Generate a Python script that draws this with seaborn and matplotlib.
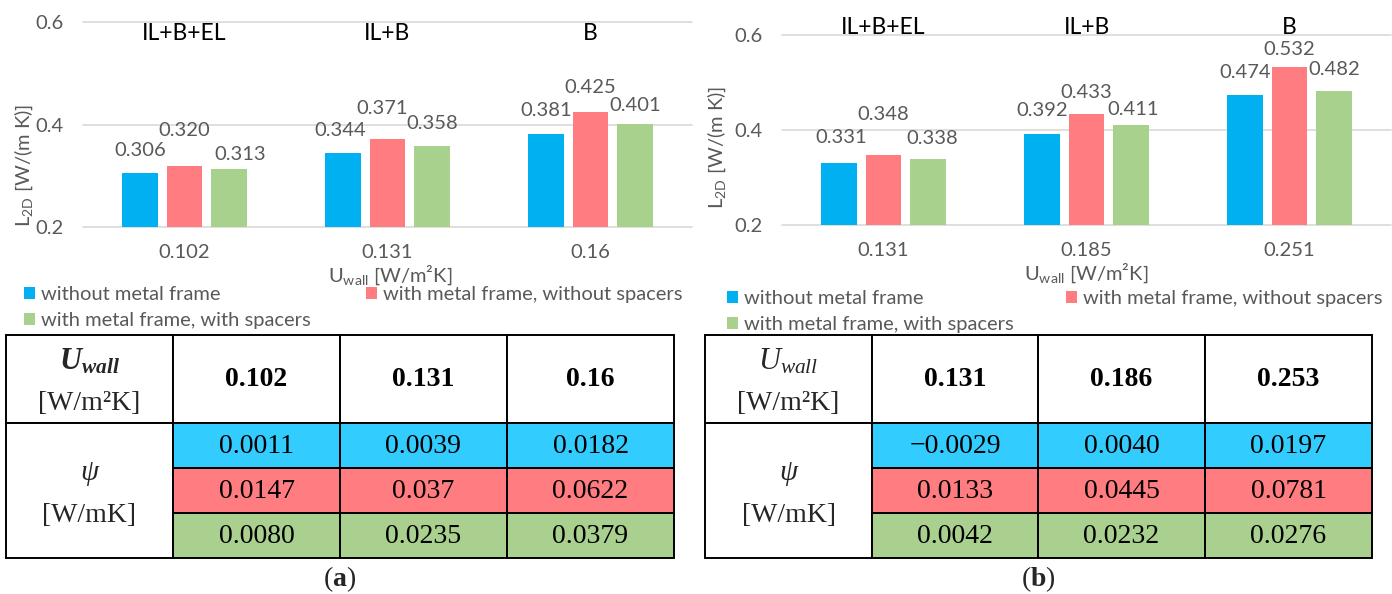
import matplotlib
matplotlib.use("Agg")
import matplotlib.pyplot as plt
from matplotlib.patches import Rectangle, Patch
import pandas as pd
import seaborn as sns

# ---------------- data ----------------
series = ["without metal frame",
          "with metal frame, without spacers",
          "with metal frame, with spacers"]
variants = ["IL+B+EL", "IL+B", "B"]
y_ticks = [0.2, 0.4, 0.6]

u_wall_a = ["0.102", "0.131", "0.16"]
l2d_a_no_frame = [0.306, 0.344, 0.381]
l2d_a_frame = [0.320, 0.371, 0.425]
l2d_a_spacers = [0.313, 0.358, 0.401]

u_wall_b = ["0.131", "0.185", "0.251"]
l2d_b_no_frame = [0.331, 0.392, 0.474]
l2d_b_frame = [0.348, 0.433, 0.532]
l2d_b_spacers = [0.338, 0.411, 0.482]

table_u_a = ["0.102", "0.131", "0.16"]
psi_a_no_frame = ["0.0011", "0.0039", "0.0182"]
psi_a_frame = ["0.0147", "0.037", "0.0622"]
psi_a_spacers = ["0.0080", "0.0235", "0.0379"]

table_u_b = ["0.131", "0.186", "0.253"]
psi_b_no_frame = ["\u22120.0029", "0.0040", "0.0197"]
psi_b_frame = ["0.0133", "0.0445", "0.0781"]
psi_b_spacers = ["0.0042", "0.0232", "0.0276"]

# ---------------- style ----------------
bar_colors = ["#00B0F0", "#FF7C80", "#A9D18E"]
cell_colors = ["#33CCFF", "#FF7C80", "#A9D08E"]
GREY = "#595959"
GRID = "#D9D9D9"
SANS = "Lato"
SERIF = "Liberation Serif"
FS = 14.5        # chart text size
FS_LEG = 14.5    # legend text size
FS_VAR = 16.5    # construction variant names
FS_TAB = 20      # table text size
LW = 1.4

sns.set_theme(style="white")
plt.rcParams.update({
    "font.family": [SANS, "DejaVu Sans"],
    "mathtext.fontset": "custom",
    "mathtext.rm": SERIF,
    "mathtext.it": SERIF + ":italic",
    "mathtext.bf": SERIF + ":bold",
    "mathtext.bfit": SERIF + ":italic:bold",
    "mathtext.sf": SANS,
})

W, H = 1392, 594
fig = plt.figure(figsize=(W / 100, H / 100), dpi=100)


def px_box(x0, top, x1, bottom):
    return [x0 / W, 1 - bottom / H, (x1 - x0) / W, (bottom - top) / H]


def draw_chart(box, cats, values, lifts, shifts, variant_y, xlabel_xy, ylabel_xy,
               legend_left, legend_right, legend_top):
    ax = fig.add_axes(px_box(*box))
    rows = [(c, s, v) for s, vals in zip(series, values) for c, v in zip(cats, vals)]
    df = pd.DataFrame(rows, columns=["U", "series", "L2D"])
    sns.barplot(data=df, x="U", y="L2D", hue="series", order=cats, hue_order=series,
                palette=bar_colors, saturation=1, width=0.66, gap=0.2,
                errorbar=None, legend=False, linewidth=0, ax=ax)
    ax.set_ylim(y_ticks[0], y_ticks[-1])
    ax.set_xlim(-0.5, len(cats) - 0.5)
    ax.set_yticks(y_ticks)
    ax.set_yticklabels([f"{t:g}" for t in y_ticks])
    ax.tick_params(axis="both", length=0, labelsize=FS, labelcolor=GREY)
    ax.tick_params(axis="y", pad=14)
    ax.tick_params(axis="x", pad=12)
    ax.grid(axis="y", color=GRID, lw=1.2)
    ax.grid(axis="x", visible=False)
    for gl in ax.get_ygridlines():
        gl.set_clip_on(False)
    ax.set_axisbelow(True)
    for sp in ax.spines.values():
        sp.set_visible(False)
    ax.patch.set_alpha(0)

    # value labels above each bar
    for h_idx, cont in enumerate(ax.containers):
        for bar in cont:
            cx = bar.get_x() + bar.get_width() / 2
            val = bar.get_height()
            k = int(round(cx))
            ax.annotate(f"{val:.3f}", xy=(cx, val),
                        xytext=(shifts[h_idx][k] * 0.72, lifts[h_idx][k] * 0.72),
                        textcoords="offset points", ha="center", va="center",
                        color=GREY, fontsize=FS)

    # construction variant names
    for i, name in enumerate(variants):
        ax.text(i, variant_y, name, transform=ax.get_xaxis_transform(),
                ha="center", va="center", fontsize=FS_VAR, color="black")

    ax.set_xlabel("U$_{\\mathsf{wall}}$ [W/m\u00b2K]", fontsize=FS, color=GREY)
    ax.xaxis.set_label_coords(*xlabel_xy)
    ax.xaxis.label.set_va("center")
    ax.set_ylabel("L$_{\\mathsf{2D}}$ [W/(m K)]", fontsize=FS, color=GREY)
    ax.yaxis.set_label_coords(*ylabel_xy)
    ax.yaxis.label.set_va("center")

    handles = [Patch(facecolor=c, edgecolor="none") for c in bar_colors]
    kw = dict(frameon=False, fontsize=FS_LEG, labelcolor=GREY, handlelength=0.55,
              handleheight=0.55, handletextpad=0.3, borderpad=0, borderaxespad=0,
              labelspacing=0.45, loc="upper left", bbox_transform=fig.transFigure)
    fig.legend([handles[0], handles[2]], [series[0], series[2]],
               bbox_to_anchor=(legend_left / W, 1 - legend_top / H), **kw)
    fig.legend([handles[1]], [series[1]],
               bbox_to_anchor=(legend_right / W, 1 - legend_top / H), **kw)
    return ax


# label lift (px above bar top) and sideways shift, per series and per group
lift_a = [[22, 23, 24], [35, 31, 24], [15, 23, 18]]
shift_a = [[0, -3, 0], [0, -5, 0], [11, 0, 0]]
lift_b = [[25, 23, 22], [40, 22, 18], [21, 15, 22]]
shift_b = [[2, 0, 0], [0, 0, 0], [4, 2, 0]]

ax_a = draw_chart((83, 22, 692, 227), u_wall_a,
                  [l2d_a_no_frame, l2d_a_frame, l2d_a_spacers], lift_a, shift_a,
                  0.946, (0.505, -0.235), (-0.097, 0.30), 24, 366, 286)
ax_b = draw_chart((782, 35, 1391, 225), u_wall_b,
                  [l2d_b_no_frame, l2d_b_frame, l2d_b_spacers], lift_b, shift_b,
                  1.042, (0.50, -0.255), (-0.107, 0.41), 727, 1066, 290)

# ---------------- tables ----------------
tab = fig.add_axes([0, 0, 1, 1])
tab.set_xlim(0, W)
tab.set_ylim(H, 0)
tab.axis("off")
tab.patch.set_alpha(0)

TOP, HEAD_BOT = 335, 423
ROW_EDGES = [423, 468, 513, 558]


def draw_table(col_edges, u_vals, psi_rows, u_label, caption):
    for j in range(4):
        x0, x1 = col_edges[j], col_edges[j + 1]
        tab.add_patch(Rectangle((x0, TOP), x1 - x0, HEAD_BOT - TOP, fc="white", ec="black", lw=LW))
    tab.add_patch(Rectangle((col_edges[0], HEAD_BOT), col_edges[1] - col_edges[0],
                            ROW_EDGES[-1] - HEAD_BOT, fc="white", ec="black", lw=LW))
    for r, (vals, color) in enumerate(zip(psi_rows, cell_colors)):
        y0, y1 = ROW_EDGES[r], ROW_EDGES[r + 1]
        for j, v in enumerate(vals):
            x0, x1 = col_edges[j + 1], col_edges[j + 2]
            tab.add_patch(Rectangle((x0, y0), x1 - x0, y1 - y0, fc=color, ec="black", lw=LW))
            tab.text((x0 + x1) / 2, (y0 + y1) / 2 + 1, v, ha="center", va="center",
                     fontsize=FS_TAB, family=SERIF, color="black")
    for j, u in enumerate(u_vals):
        x0, x1 = col_edges[j + 1], col_edges[j + 2]
        tab.text((x0 + x1) / 2, (TOP + HEAD_BOT) / 2 + 1, u, ha="center", va="center",
                 fontsize=FS_TAB, family=SERIF, weight="bold", color="black")
    xc = (col_edges[0] + col_edges[1]) / 2
    tab.text(xc, 362, u_label, ha="center", va="center", fontsize=FS_TAB + 2, family=SERIF)
    tab.text(xc, 403, "[W/m\u00b2K]", ha="center", va="center", fontsize=FS_TAB, family=SERIF)
    tab.text(xc, 473, "\u03c8", ha="center", va="center", fontsize=FS_TAB + 1, family=SERIF,
             style="italic")
    tab.text(xc, 515, "[W/mK]", ha="center", va="center", fontsize=FS_TAB, family=SERIF)
    tab.text((col_edges[0] + col_edges[-1]) / 2, 579, caption, ha="center", va="center",
             fontsize=FS_TAB, family=SERIF)


draw_table([6, 173, 340, 507, 674], table_u_a,
           [psi_a_no_frame, psi_a_frame, psi_a_spacers],
           r"$\mathbfit{U}_{\mathbfit{wall}}$", r"($\mathbf{a}$)")
draw_table([705, 872, 1038, 1205, 1372], table_u_b,
           [psi_b_no_frame, psi_b_frame, psi_b_spacers],
           r"$U_{wall}$", r"($\mathbf{b}$)")

fig.savefig("out.png", dpi=100)
